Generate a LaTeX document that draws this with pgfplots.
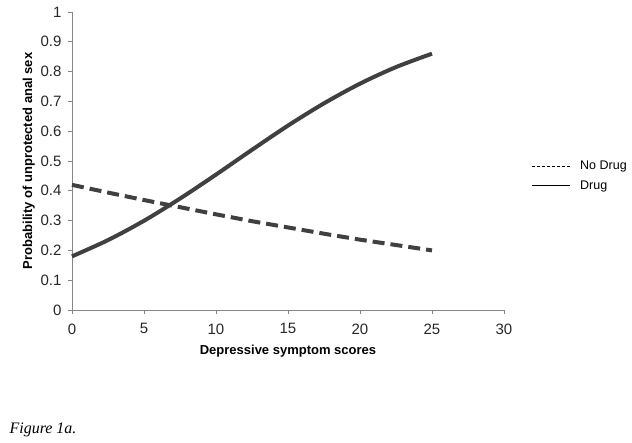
\documentclass[border=0pt]{standalone}
\usepackage{fontspec}
\setmainfont{Liberation Sans}
\newfontfamily\figserif{Liberation Serif}
\usepackage{pgfplots}
\pgfplotsset{compat=1.18}
\definecolor{linegray}{HTML}{404040}
\definecolor{axgray}{HTML}{868686}
\begin{document}
\begin{tikzpicture}[x=1pt,y=1pt]
\useasboundingbox (0,0) rectangle (632,443);
\begin{axis}[
  at={(72pt,133pt)}, anchor=origin,
  scale only axis, width=432pt, height=298pt,
  xmin=0, xmax=30, ymin=0, ymax=1,
  axis x line*=bottom, axis y line*=left,
  axis line style={axgray, line width=0.8pt},
  every tick/.style={axgray, line width=0.8pt},
  tick align=outside, major tick length=4pt,
  xtick={0,5,...,30}, ytick={0,0.1,...,1},
  yticklabels={0,0.1,0.2,0.3,0.4,0.5,0.6,0.7,0.8,0.9,1},
  /pgf/number format/assume math mode=true,
  tick label style={font=\fontsize{15}{17}\selectfont, text=black!85},
  xticklabel style={yshift=-6pt},
  yticklabel style={xshift=-3pt},
  xlabel={\textbf{Depressive symptom scores}},
  ylabel={\textbf{Probability of unprotected anal sex}},
  label style={font=\fontsize{13}{15}\selectfont},
  xlabel style={yshift=-4pt},
  ylabel style={yshift=-1pt},
  clip=false,
  legend image code/.code={\draw[#1] (0pt,0pt) -- (38pt,0pt); \path (46pt,0pt);},
  legend style={at={(1.056,0.513)}, anchor=north west, draw=none, fill=none,
    font=\fontsize{12.5}{14}\selectfont, row sep=5pt},
  legend cell align=left,
]
\addplot[linegray, line width=4pt, dash pattern=on 12pt off 6pt, forget plot] coordinates {
(0,0.420) (2.5,0.394) (5,0.369) (7.5,0.345) (10,0.321) (12.5,0.298) (15,0.277) (17.5,0.256) (20,0.236) (22.5,0.218) (25,0.200)};
\addplot[linegray, line width=4pt, smooth, forget plot] coordinates {
(0,0.180) (2.5,0.2345) (5,0.2994) (7.5,0.3738) (10,0.4543) (12.5,0.5375) (15,0.6188) (17.5,0.6935) (20,0.7595) (22.5,0.8151) (25,0.8601)};
\addlegendimage{black, line width=0.8pt, dash pattern=on 3pt off 2pt}
\addlegendentry{No Drug}
\addlegendimage{black, line width=0.8pt}
\addlegendentry{Drug}
\end{axis}
\node[anchor=base west, font=\figserif\itshape\fontsize{16}{18}\selectfont] at (6,9) {Figure 1a.};
\end{tikzpicture}
\end{document}
